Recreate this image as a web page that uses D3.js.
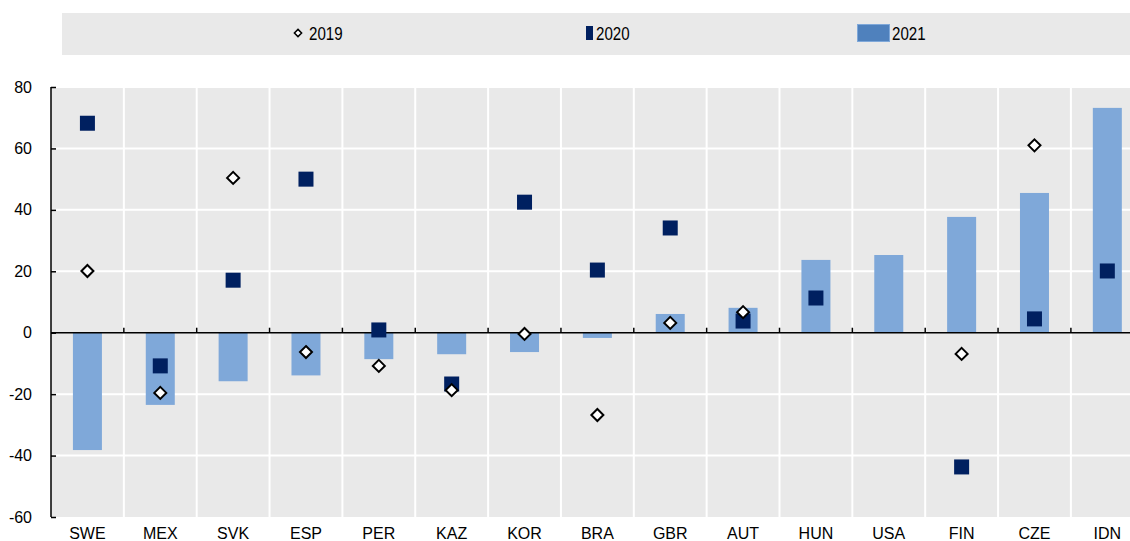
<!DOCTYPE html>
<html lang="en">
<head>
<meta charset="utf-8">
<title>Chart</title>
<script src="https://cdn.jsdelivr.net/npm/d3@7"></script>
<style>
  body { margin: 0; background: #fff; }
  text { font-family: "Liberation Sans", Arial, sans-serif; fill: #000; }
  .legend text { font-size: 18px; }
</style>
</head>
<body>
<svg width="1130" height="541"></svg>
<script>
var countries = ["SWE","MEX","SVK","ESP","PER","KAZ","KOR","BRA","GBR","AUT","HUN","USA","FIN","CZE","IDN"];
var v2019 = [20.1, -19.6, 50.4, -6.3, -10.8, -18.7, -0.4, -26.8, 3.2, 6.7, null, null, -6.9, 61, null];
var v2020 = [68.2, -10.8, 17.1, 50, 0.9, -16.7, 42.5, 20.4, 34.1, 3.8, 11.3, null, -43.7, 4.5, 20.1];
var v2021 = [-38.2, -23.5, -15.8, -13.9, -8.6, -7, -6.3, -1.7, 6.1, 8.1, 23.7, 25.3, 37.7, 45.5, 73.2];
var yTicks = [-60, -40, -20, 0, 20, 40, 60, 80];

var svg = d3.select("svg");
var pLeft = 51, pRight = 1130, pTop = 87, pBottom = 517;
var bandW = 72.85;

var x = d3.scaleBand().domain(countries).range([pLeft, pLeft + bandW * countries.length]);
var y = d3.scaleLinear().domain([-60, 80]).range([pBottom, pTop]);

function diamond(r) { return "M0," + (-r) + "L" + r + ",0L0," + r + "L" + (-r) + ",0Z"; }

// legend
var leg = svg.append("g").attr("class", "legend");
leg.append("rect").attr("x", 62).attr("y", 13).attr("width", 1068).attr("height", 42).attr("fill", "#e9e9e9");
leg.append("path").attr("d", diamond(3.6)).attr("transform", "translate(298,33)")
   .attr("fill", "#fff").attr("stroke", "#000").attr("stroke-width", 1.5);
leg.append("text").attr("transform", "translate(309,40) scale(0.84,1)").text("2019");
leg.append("rect").attr("x", 586).attr("y", 26).attr("width", 7).attr("height", 14).attr("fill", "#002060");
leg.append("text").attr("transform", "translate(596,40) scale(0.84,1)").text("2020");
leg.append("rect").attr("x", 857.5).attr("y", 24.5).attr("width", 32).attr("height", 17).attr("fill", "#4f81bd").attr("stroke", "#7fa8d9");
leg.append("text").attr("transform", "translate(892,40) scale(0.84,1)").text("2021");

// plot background
svg.append("rect").attr("x", pLeft).attr("y", pTop).attr("width", pRight - pLeft).attr("height", pBottom - pTop).attr("fill", "#e9e9e9");

// grid
svg.append("g").selectAll("line").data(yTicks.filter(function(d) { return d !== 0 && d !== -60; }))
  .enter().append("line")
  .attr("x1", pLeft).attr("x2", pRight)
  .attr("y1", function(d) { return y(d); }).attr("y2", function(d) { return y(d); })
  .attr("stroke", "#fff").attr("stroke-width", 2);
svg.append("g").selectAll("line").data(countries.slice(1))
  .enter().append("line")
  .attr("x1", function(d) { return x(d); }).attr("x2", function(d) { return x(d); })
  .attr("y1", pTop).attr("y2", pBottom)
  .attr("stroke", "#fff").attr("stroke-width", 2);

// bars 2021
var bw = 29;
svg.append("g").selectAll("rect").data(v2021)
  .enter().append("rect")
  .attr("x", function(d, i) { return x(countries[i]) + x.bandwidth() / 2 - bw / 2; })
  .attr("width", bw)
  .attr("y", function(d) { return y(Math.max(0, d)); })
  .attr("height", function(d) { return Math.abs(y(d) - y(0)); })
  .attr("fill", "#7fa8d9");

// zero line with ticks
svg.append("line").attr("x1", pLeft).attr("x2", pRight).attr("y1", y(0)).attr("y2", y(0))
  .attr("stroke", "#000").attr("stroke-width", 1.5);
svg.append("g").selectAll("line").data(countries.slice(1))
  .enter().append("line")
  .attr("x1", function(d) { return x(d); }).attr("x2", function(d) { return x(d); })
  .attr("y1", y(0)).attr("y2", y(0) - 5)
  .attr("stroke", "#000").attr("stroke-width", 1.5);

// squares 2020
var sq = 15;
svg.append("g").selectAll("rect").data(v2020.map(function(d, i) { return {v: d, c: countries[i]}; }).filter(function(d) { return d.v !== null; }))
  .enter().append("rect")
  .attr("x", function(d) { return x(d.c) + x.bandwidth() / 2 - sq / 2; })
  .attr("y", function(d) { return y(d.v) - sq / 2; })
  .attr("width", sq).attr("height", sq)
  .attr("fill", "#002060");

// diamonds 2019
svg.append("g").selectAll("path").data(v2019.map(function(d, i) { return {v: d, c: countries[i]}; }).filter(function(d) { return d.v !== null; }))
  .enter().append("path")
  .attr("d", diamond(6))
  .attr("transform", function(d) { return "translate(" + (x(d.c) + x.bandwidth() / 2) + "," + y(d.v) + ")"; })
  .attr("fill", "#fff").attr("stroke", "#000").attr("stroke-width", 2);

// y axis
var yAxis = d3.axisLeft(y).tickValues(yTicks).tickSize(-5).tickPadding(19).tickFormat(function(d) { return String(d); });
var ga = svg.append("g").attr("transform", "translate(" + pLeft + ",0)").call(yAxis);
ga.select(".domain").attr("stroke", "#000").attr("stroke-width", 1.5).attr("d", "M0," + pTop + "V" + pBottom);
ga.selectAll(".tick line").attr("stroke", "#000").attr("stroke-width", 1.5);
ga.selectAll(".tick text").attr("font-size", 16).attr("font-family", "'Liberation Sans', Arial, sans-serif");

// x labels
svg.append("g").selectAll("text").data(countries)
  .enter().append("text")
  .attr("x", function(d) { return x(d) + x.bandwidth() / 2; })
  .attr("y", 539)
  .attr("text-anchor", "middle")
  .attr("font-size", 16)
  .text(function(d) { return d; });
</script>
</body>
</html>
